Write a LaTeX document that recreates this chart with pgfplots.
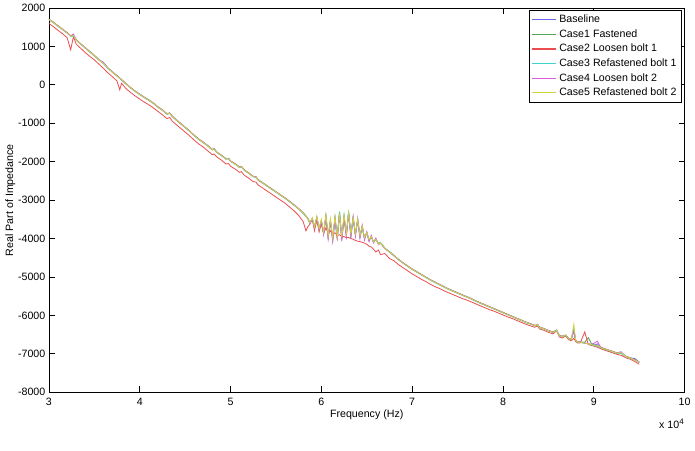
\documentclass[border=0pt]{standalone}
\usepackage{pgfplots}
\usepackage{pgfplotstable}
\pgfplotsset{compat=1.18}
\usepackage{fontspec}
\setmainfont{Liberation Sans}
\definecolor{colB}{rgb}{0.4,0.4,0.92}
\definecolor{colG}{rgb}{0.35,0.65,0.35}
\definecolor{colR}{rgb}{0.93,0.3,0.3}
\definecolor{colC}{rgb}{0.25,0.82,0.82}
\definecolor{colM}{rgb}{0.88,0.35,0.88}
\definecolor{colY}{rgb}{0.82,0.82,0.25}
\pgfplotstableread{
x b c1 c2 c3 c4 c5
3.00 1700 1710 1600 1695 1705 1700
3.05 1620 1630 1510 1615 1625 1620
3.10 1530 1540 1420 1525 1535 1530
3.15 1440 1450 1330 1435 1445 1440
3.20 1350 1360 1230 1345 1360 1350
3.24 1270 1280 910 1265 1275 1270
3.27 1280 1270 1255 1270 1320 1280
3.30 1170 1180 1060 1165 1175 1170
3.35 1060 1070 950 1055 1065 1060
3.40 960 970 840 955 965 960
3.45 860 870 740 855 865 860
3.50 760 770 650 755 765 760
3.55 650 660 540 645 655 650
3.60 560 570 430 555 590 560
3.65 430 440 310 425 435 430
3.70 330 340 210 325 335 330
3.75 230 240 100 225 235 230
3.78 170 180 -130 165 175 170
3.80 130 140 40 125 135 130
3.85 20 30 -100 15 25 20
3.90 -80 -70 -200 -85 -75 -80
3.95 -170 -160 -290 -175 -165 -170
4.00 -250 -240 -370 -255 -245 -250
4.05 -330 -320 -450 -335 -325 -330
4.10 -400 -390 -520 -405 -395 -400
4.15 -480 -470 -600 -485 -475 -480
4.20 -580 -570 -690 -585 -575 -580
4.25 -660 -650 -780 -665 -655 -660
4.30 -760 -750 -880 -765 -755 -760
4.33 -740 -730 -850 -745 -735 -740
4.36 -830 -820 -950 -835 -825 -830
4.40 -910 -900 -1030 -915 -905 -910
4.45 -1010 -1000 -1130 -1015 -1005 -1010
4.50 -1110 -1100 -1230 -1115 -1105 -1110
4.55 -1210 -1200 -1330 -1215 -1205 -1210
4.60 -1320 -1310 -1440 -1325 -1315 -1320
4.65 -1420 -1410 -1540 -1425 -1415 -1420
4.70 -1500 -1490 -1620 -1505 -1495 -1500
4.75 -1590 -1580 -1720 -1595 -1585 -1590
4.80 -1690 -1680 -1820 -1695 -1685 -1690
4.82 -1670 -1660 -1800 -1675 -1665 -1670
4.85 -1760 -1750 -1880 -1765 -1755 -1760
4.90 -1840 -1830 -1960 -1845 -1835 -1840
4.95 -1930 -1920 -2060 -1935 -1925 -1930
4.98 -1920 -1910 -2050 -1925 -1915 -1920
5.00 -1990 -1980 -2120 -1995 -1985 -1990
5.05 -2060 -2050 -2190 -2065 -2055 -2060
5.10 -2150 -2140 -2280 -2155 -2145 -2150
5.12 -2130 -2120 -2260 -2135 -2125 -2130
5.15 -2220 -2210 -2350 -2225 -2215 -2220
5.20 -2300 -2290 -2430 -2305 -2295 -2300
5.25 -2390 -2380 -2520 -2395 -2385 -2390
5.28 -2400 -2390 -2530 -2405 -2395 -2400
5.30 -2470 -2460 -2600 -2475 -2465 -2470
5.35 -2550 -2540 -2680 -2555 -2545 -2550
5.40 -2630 -2620 -2760 -2635 -2625 -2630
5.45 -2710 -2700 -2840 -2715 -2705 -2710
5.50 -2790 -2780 -2920 -2795 -2785 -2790
5.55 -2870 -2860 -3000 -2875 -2865 -2870
5.60 -2950 -2940 -3080 -2955 -2945 -2950
5.65 -3040 -3030 -3180 -3045 -3035 -3040
5.70 -3130 -3120 -3280 -3135 -3125 -3130
5.75 -3230 -3220 -3400 -3235 -3225 -3230
5.80 -3340 -3330 -3560 -3345 -3335 -3340
5.83 -3420 -3410 -3800 -3425 -3415 -3420
5.85 -3480 -3470 -3700 -3485 -3475 -3480
5.875 -3600 -3590 -3620 -3610 -3600 -3590
5.900 -3480 -3500 -3500 -3470 -3490 -3460
5.925 -3700 -3690 -3800 -3720 -3710 -3700
5.950 -3450 -3470 -3520 -3440 -3460 -3420
5.975 -3750 -3740 -3830 -3760 -3770 -3740
6.000 -3550 -3560 -3620 -3530 -3540 -3500
6.025 -3850 -3860 -3870 -3880 -3900 -3840
6.050 -3450 -3420 -3720 -3400 -3430 -3380
6.075 -3950 -3980 -3860 -3960 -4020 -3940
6.100 -3550 -3560 -3800 -3520 -3540 -3480
6.125 -4020 -4050 -3900 -4000 -4070 -3990
6.150 -3500 -3470 -3850 -3450 -3480 -3420
6.175 -3980 -3960 -3920 -3950 -4040 -3970
6.200 -3330 -3300 -3900 -3320 -3380 -3350
6.225 -3980 -4000 -3950 -3990 -4060 -3970
6.250 -3450 -3430 -3950 -3400 -3460 -3380
6.275 -3900 -3920 -3980 -3890 -3960 -3880
6.300 -3320 -3340 -3970 -3280 -3350 -3330
6.325 -3920 -3900 -4000 -3930 -3980 -3890
6.350 -3480 -3470 -4020 -3460 -3420 -3450
6.375 -3900 -3880 -4050 -3910 -3950 -3870
6.400 -3520 -3530 -4070 -3500 -3480 -3490
6.425 -3950 -3940 -4080 -3960 -4000 -3930
6.450 -3700 -3680 -4100 -3700 -3650 -3680
6.475 -4000 -3990 -4120 -4010 -4040 -3980
6.500 -3850 -3840 -4150 -3860 -3820 -3840
6.525 -4050 -4040 -4200 -4060 -4080 -4030
6.550 -3950 -3940 -4220 -3960 -3920 -3950
6.575 -4100 -4090 -4280 -4100 -4110 -4090
6.60 -4020 -4010 -4350 -4030 -3990 -4020
6.63 -4150 -4140 -4300 -4150 -4160 -4150
6.65 -4110 -4100 -4420 -4110 -4120 -4110
6.70 -4260 -4250 -4390 -4260 -4270 -4260
6.75 -4350 -4340 -4520 -4355 -4345 -4350
6.80 -4450 -4440 -4580 -4455 -4445 -4450
6.85 -4550 -4540 -4680 -4555 -4545 -4550
6.90 -4640 -4630 -4760 -4645 -4635 -4640
6.95 -4720 -4710 -4840 -4725 -4715 -4720
7.00 -4800 -4790 -4920 -4805 -4795 -4800
7.05 -4870 -4860 -4990 -4875 -4865 -4870
7.10 -4940 -4930 -5060 -4945 -4935 -4940
7.15 -5010 -5000 -5120 -5015 -5005 -5010
7.20 -5080 -5070 -5190 -5085 -5075 -5080
7.25 -5140 -5130 -5250 -5145 -5135 -5140
7.30 -5200 -5190 -5300 -5205 -5195 -5200
7.35 -5260 -5250 -5360 -5265 -5255 -5260
7.40 -5320 -5310 -5410 -5325 -5315 -5320
7.45 -5370 -5360 -5460 -5375 -5365 -5370
7.50 -5420 -5410 -5510 -5425 -5415 -5420
7.55 -5470 -5460 -5560 -5475 -5465 -5470
7.60 -5520 -5510 -5600 -5525 -5515 -5520
7.65 -5570 -5560 -5650 -5575 -5565 -5570
7.70 -5630 -5620 -5700 -5635 -5625 -5630
7.75 -5680 -5670 -5750 -5685 -5675 -5680
7.80 -5730 -5720 -5800 -5735 -5725 -5730
7.85 -5780 -5770 -5850 -5785 -5775 -5780
7.90 -5830 -5820 -5890 -5835 -5825 -5830
7.95 -5880 -5870 -5940 -5885 -5875 -5880
8.00 -5930 -5920 -5990 -5935 -5925 -5930
8.05 -5980 -5970 -6040 -5985 -5975 -5980
8.10 -6030 -6020 -6080 -6035 -6025 -6030
8.15 -6080 -6070 -6130 -6085 -6075 -6080
8.20 -6130 -6120 -6180 -6135 -6125 -6130
8.25 -6180 -6170 -6230 -6185 -6175 -6180
8.30 -6220 -6210 -6270 -6225 -6215 -6220
8.35 -6270 -6260 -6310 -6275 -6265 -6270
8.38 -6240 -6240 -6270 -6250 -6230 -6240
8.40 -6310 -6300 -6350 -6315 -6305 -6310
8.45 -6350 -6340 -6390 -6355 -6345 -6350
8.50 -6400 -6390 -6440 -6405 -6395 -6400
8.55 -6440 -6430 -6480 -6445 -6435 -6440
8.59 -6390 -6380 -6400 -6395 -6385 -6390
8.62 -6530 -6520 -6560 -6535 -6525 -6530
8.65 -6550 -6540 -6590 -6555 -6545 -6550
8.69 -6520 -6510 -6540 -6525 -6515 -6520
8.72 -6600 -6590 -6630 -6605 -6595 -6600
8.75 -6630 -6620 -6660 -6635 -6625 -6630
8.78 -6400 -6380 -6600 -6350 -6420 -6230
8.80 -6650 -6640 -6680 -6655 -6645 -6650
8.82 -6700 -6690 -6720 -6705 -6695 -6700
8.85 -6700 -6690 -6720 -6705 -6695 -6700
8.90 -6720 -6700 -6430 -6725 -6715 -6720
8.94 -6740 -6580 -6760 -6745 -6735 -6740
8.97 -6760 -6720 -6780 -6765 -6755 -6760
9.00 -6780 -6770 -6800 -6785 -6730 -6780
9.04 -6740 -6800 -6830 -6790 -6670 -6780
9.07 -6830 -6820 -6860 -6835 -6810 -6830
9.10 -6860 -6850 -6890 -6865 -6855 -6860
9.15 -6900 -6890 -6930 -6905 -6895 -6900
9.20 -6940 -6930 -6970 -6945 -6935 -6940
9.25 -6980 -6970 -7010 -6985 -6975 -6980
9.30 -6950 -6960 -7040 -6990 -6960 -6970
9.35 -7070 -7060 -7100 -7075 -7065 -7070
9.40 -7110 -7100 -7140 -7115 -7105 -7110
9.45 -7120 -7150 -7200 -7165 -7155 -7160
9.50 -7220 -7210 -7270 -7225 -7215 -7220
}\datatable
\begin{document}
\begin{tikzpicture}
\begin{axis}[
  name=ax,
  scale only axis,
  width=477.75pt, height=288.75pt,
  xmin=3, xmax=10, ymin=-8000, ymax=2000,
  xtick={3,4,5,6,7,8,9,10},
  ytick={-8000,-7000,-6000,-5000,-4000,-3000,-2000,-1000,0,1000,2000},
  tick align=inside,
  tick pos=both,
  major tick length=4.5pt,
  tick style={black, line width=0.5pt},
  axis line style={line width=0.6pt},
  /pgf/number format/assume math mode=true,
  /pgf/number format/1000 sep={},
  ticklabel style={font=\fontsize{8}{9.5}\selectfont},
  yticklabel style={inner sep=1pt, xshift=-1.5pt},
  xticklabel style={yshift=-1pt},
  xlabel={Frequency (Hz)},
  ylabel={Real Part of Impedance},
  every axis x label/.style={at={(rel axis cs:0.5,0)}, anchor=center, yshift=-17pt, font=\fontsize{8}{9.5}\selectfont},
  every axis y label/.style={at={(rel axis cs:0,0.5)}, anchor=center, xshift=-29pt, rotate=90, font=\fontsize{8}{9.5}\selectfont},
  legend cell align=left,
  legend style={at={(rel axis cs:0.995,0.995)}, anchor=north east, draw=black, line width=0.5pt,
    font=\fontsize{8}{9.5}\selectfont, inner sep=1.5pt, row sep=-0.3pt},
  legend image code/.code={\draw[#1, line width=0.8pt] (0pt,0pt) -- (18pt,0pt);},
  every axis plot/.append style={line width=0.6pt},
]
\addplot[colB] table[x=x,y=b] {\datatable};
\addlegendentry{Baseline}
\addplot[colG] table[x=x,y=c1] {\datatable};
\addlegendentry{Case1 Fastened}
\addplot[colR] table[x=x,y=c2] {\datatable};
\addlegendentry{Case2 Loosen bolt 1}
\addplot[colC] table[x=x,y=c3] {\datatable};
\addlegendentry{Case3 Refastened bolt 1}
\addplot[colM] table[x=x,y=c4] {\datatable};
\addlegendentry{Case4 Loosen bolt 2}
\addplot[colY] table[x=x,y=c5] {\datatable};
\addlegendentry{Case5 Refastened bolt 2}
\end{axis}
\node[anchor=east, font=\fontsize{8}{9.5}\selectfont, inner sep=0pt] at ([yshift=-24pt]ax.south east) {x 10\textsuperscript{4}};
\path (-36.75pt,-43.5pt) rectangle (484.5pt,294.75pt);
\end{tikzpicture}
\end{document}
